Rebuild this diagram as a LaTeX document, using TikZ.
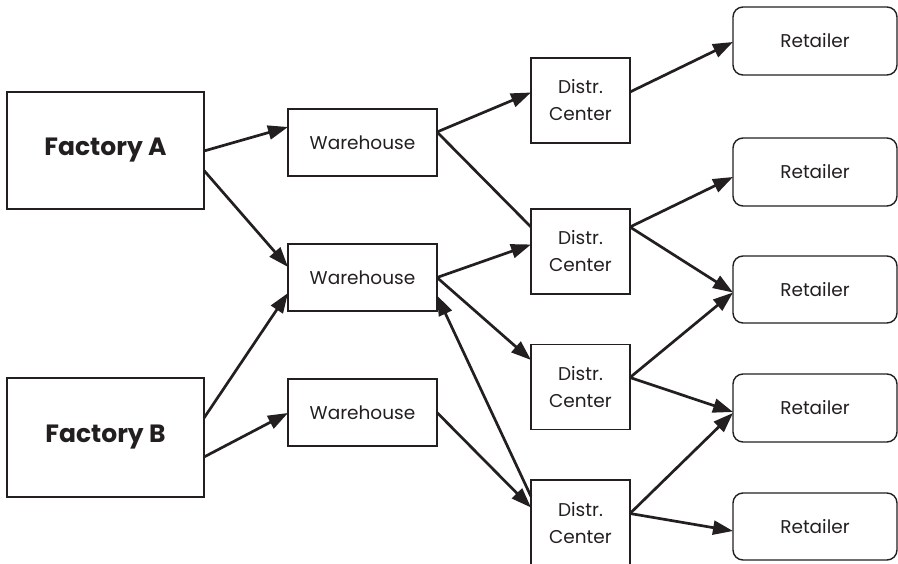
\documentclass[tikz,border=0pt]{standalone}
\usepackage{fontspec}
\setmainfont{Poppins}
\usetikzlibrary{arrows.meta,calc}
\definecolor{ink}{RGB}{35,31,32}
\begin{document}
\begin{tikzpicture}[x=1pt,y=-1pt,
  box/.style={draw=ink,line width=1.4pt,inner sep=0pt,outer sep=0pt,align=center,text=ink,
    font=\fontsize{18.5}{27}\selectfont},
  factory/.style={box,minimum width=197pt,font=\fontsize{25}{28}\selectfont\bfseries},
  warehouse/.style={box,minimum width=149pt,minimum height=67pt},
  center/.style={box,minimum width=99pt,minimum height=85pt},
  retailer/.style={box,rounded corners=10pt,minimum width=164pt,minimum height=68pt},
  arr/.style={draw=ink,line width=2.7pt,-{Triangle[length=20pt,width=14pt]}},
  link/.style={draw=ink,line width=2.7pt}
]
\useasboundingbox (0,0) rectangle (898,564);

% factories
\node[factory,minimum height=117pt] (fa) at (105.5,150.5) {Factory A};
\node[factory,minimum height=119pt] (fb) at (105.5,437.5) {Factory B};

% warehouses
\node[warehouse] (w1) at (362.5,142.5) {Warehouse};
\node[warehouse] (w2) at (362.5,277.5) {Warehouse};
\node[warehouse] (w3) at (362.5,412.5) {Warehouse};

% distribution centers
\node[center] (d1) at (580.5,100.5) {Distr.\\Center};
\node[center] (d2) at (580.5,251.5) {Distr.\\Center};
\node[center] (d3) at (580.5,387) {Distr.\\Center};
\node[center,minimum height=86pt] (d4) at (580.5,523) {Distr.\\Center};

% retailers
\node[retailer] (r1) at (815,41) {Retailer};
\node[retailer] (r2) at (815,172) {Retailer};
\node[retailer,minimum height=67pt] (r3) at (815,289.5) {Retailer};
\node[retailer] (r4) at (815,408) {Retailer};
\node[retailer,minimum height=67pt] (r5) at (815,526.5) {Retailer};

% factories to warehouses
\draw[arr] ($(fa.east)+(0,0.5)$) -- ($(w1.west)+(0,-15.5)$);
\draw[arr] ($(fa.east)+(0,20)$) -- ($(w2.west)+(0,-10.5)$);
\draw[arr] ($(fb.east)+(0,-19.5)$) -- ($(w2.west)+(0,15.5)$);
\draw[arr] ($(fb.east)+(0,19.5)$) -- ($(w3.west)+(0,0.5)$);

% warehouses to distribution centers
\draw[arr] ($(w1.east)+(0,-10.5)$) -- ($(d1.west)+(0,-8)$);
\draw[link] ($(w1.east)+(0,-10.5)$) -- ($(d2.west)+(0,-24.5)$);
\draw[arr] (w2.east) -- ($(d2.west)+(0,-7)$);
\draw[arr] (w2.east) -- ($(d3.west)+(0,-27)$);
\draw[arr] ($(d4.west)+(0,-26.5)$) -- ($(w2.east)+(0,18)$);
\draw[arr] (w3.east) -- ($(d4.west)+(0,-15.5)$);

% distribution centers to retailers
\draw[arr] ($(d1.east)+(0,-8.5)$) -- ($(r1.west)+(0,1)$);
\draw[arr] ($(d2.east)+(0,-24.5)$) -- ($(r2.west)+(0,5)$);
\draw[arr] ($(d2.east)+(0,-24.5)$) -- ($(r3.west)+(0,3)$);
\draw[arr] ($(d3.east)+(0,-9.5)$) -- ($(r3.west)+(0,3)$);
\draw[arr] ($(d3.east)+(0,-9.5)$) -- ($(r4.west)+(0,4)$);
\draw[arr] ($(d4.east)+(0,-9.5)$) -- ($(r4.west)+(0,5)$);
\draw[arr] ($(d4.east)+(0,-9.5)$) -- ($(r5.west)+(0,4.5)$);
\end{tikzpicture}
\end{document}
